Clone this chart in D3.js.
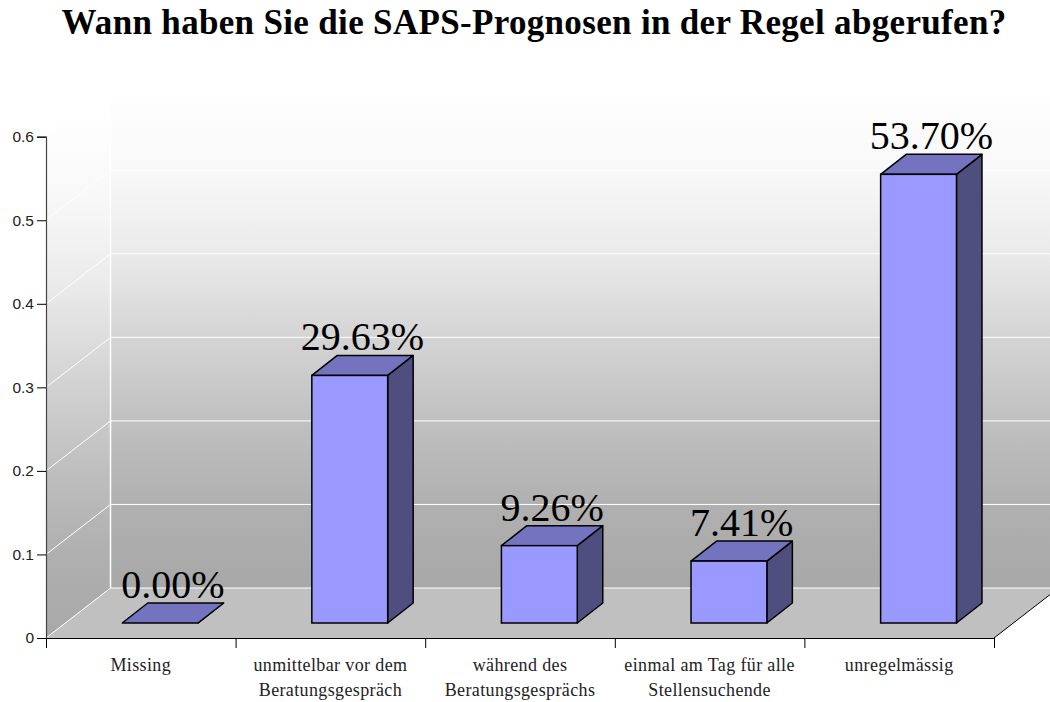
<!DOCTYPE html>
<html>
<head>
<meta charset="utf-8">
<script src="https://d3js.org/d3.v7.min.js"></script>
<style>
  html, body { margin: 0; padding: 0; background: #fff; }
  svg { display: block; }
</style>
</head>
<body>
<div id="chart"></div>
<script>
// Data
var titleText = "Wann haben Sie die SAPS-Prognosen in der Regel abgerufen?";
var categories = ["Missing", "unmittelbar vor dem|Beratungsgespräch", "während des|Beratungsgesprächs", "einmal am Tag für alle|Stellensuchende", "unregelmässig"];
var values = [0, 0.2963, 0.0926, 0.0741, 0.537];
var yTicks = [0, 0.1, 0.2, 0.3, 0.4, 0.5, 0.6];

var svgWidth = 1050;
var svgHeight = 702;
var margin = { top: 136.7, left: 46, bottom: 64, right: 56 };
var chartWidth = svgWidth - margin.left - margin.right;
var chartHeight = svgHeight - margin.top - margin.bottom;

// 3D offset of the back wall and of one bar
var depth = { x: 64.5, y: 50 };
var barDepth = { x: 25.5, y: 20 };
var barFront = 0.3; // how far back the bar's front face stands

var svg = d3.select("#chart").append("svg")
  .attr("width", svgWidth)
  .attr("height", svgHeight);

var x = d3.scaleBand().domain(d3.range(categories.length)).range([0, chartWidth]);
var y = d3.scaleLinear().domain([0, 0.6]).range([chartHeight, 0]);
var xTickScale = d3.scaleLinear().domain([0, categories.length]).range([0, chartWidth]);

// Wall shading, not quite linear in the reference
var wallShades = ["#ffffff", "#f8f8f8", "#eaeaea", "#d4d4d4", "#c0c0c0", "#b0b0b0", "#a8a8a8"];
var defs = svg.append("defs");
function wallGradient(id, y1, y2) {
  var grad = defs.append("linearGradient").attr("id", id)
    .attr("gradientUnits", "userSpaceOnUse")
    .attr("x1", 0).attr("x2", 0)
    .attr("y1", y1).attr("y2", y2);
  wallShades.forEach(function(c, i) {
    grad.append("stop").attr("offset", i / (wallShades.length - 1)).attr("stop-color", c);
  });
}
wallGradient("backWall", -depth.y, chartHeight - depth.y);
wallGradient("sideWall", -depth.y / 2, chartHeight);

var g = svg.append("g").attr("transform", `translate(${margin.left}, ${margin.top})`);

function pts(a) { return a.map(function(p) { return p.join(","); }).join(" "); }

// Walls and floor
g.append("polygon").attr("fill", "url(#sideWall)")
  .attr("points", pts([[0, y(0.6)], [depth.x, y(0.6) - depth.y], [depth.x, y(0) - depth.y], [0, y(0)]]));
g.append("polygon").attr("fill", "url(#backWall)")
  .attr("points", pts([[depth.x, y(0.6) - depth.y], [chartWidth + depth.x, y(0.6) - depth.y], [chartWidth + depth.x, y(0) - depth.y], [depth.x, y(0) - depth.y]]));
g.append("polygon").attr("fill", "#c0c0c0")
  .attr("points", pts([[0, y(0)], [depth.x, y(0) - depth.y], [chartWidth + depth.x, y(0) - depth.y], [chartWidth, y(0)]]));

// Gridlines on both walls
g.selectAll(".grid-side").data(yTicks).enter().append("line")
  .attr("x1", 0).attr("y1", function(d) { return y(d); })
  .attr("x2", depth.x).attr("y2", function(d) { return y(d) - depth.y; })
  .attr("stroke", "#fff").attr("stroke-width", 1);
g.selectAll(".grid-back").data(yTicks).enter().append("line")
  .attr("x1", depth.x).attr("y1", function(d) { return y(d) - depth.y; })
  .attr("x2", chartWidth + depth.x).attr("y2", function(d) { return y(d) - depth.y; })
  .attr("stroke", "#fff").attr("stroke-width", 1);
g.append("line")
  .attr("x1", depth.x).attr("x2", depth.x)
  .attr("y1", y(0.6) - depth.y).attr("y2", y(0) - depth.y)
  .attr("stroke", "#fff").attr("stroke-width", 1.5);

// Right edge of the floor
g.append("line")
  .attr("x1", chartWidth).attr("y1", y(0))
  .attr("x2", chartWidth + depth.x).attr("y2", y(0) - depth.y)
  .attr("stroke", "#000").attr("stroke-width", 1);

// Axes
var leftAxis = d3.axisLeft(y).tickValues(yTicks).tickSize(9).tickFormat(d3.format("~g"));
var yAxis = g.append("g").call(leftAxis);
yAxis.selectAll("text").attr("font-family", "'Liberation Sans', sans-serif").attr("font-size", 15.5).attr("fill", "#222");
yAxis.select(".domain").attr("stroke", "#444").attr("stroke-width", 1.2);

var bottomAxis = d3.axisBottom(xTickScale).ticks(categories.length).tickSize(10).tickFormat("");
var xAxis = g.append("g").attr("transform", `translate(0, ${chartHeight})`).call(bottomAxis);

// Bars
var bars = g.selectAll(".bar").data(values).enter().append("g").attr("class", "bar")
  .attr("transform", function(d, i) {
    return `translate(${x(i) + x.bandwidth() * 0.3 + depth.x * barFront}, ${-depth.y * barFront})`;
  });
var bw = x.bandwidth() * 0.4;

bars.append("polygon").attr("fill", "#4f4f7f").attr("stroke", "#000").attr("stroke-width", 1.5)
  .attr("stroke-linejoin", "round")
  .attr("points", function(d) {
    return pts([[bw, y(d)], [bw + barDepth.x, y(d) - barDepth.y], [bw + barDepth.x, y(0) - barDepth.y], [bw, y(0)]]);
  });
bars.append("polygon").attr("fill", "#7373bf").attr("stroke", "#000").attr("stroke-width", 1.5)
  .attr("stroke-linejoin", "round")
  .attr("points", function(d) {
    return pts([[0, y(d)], [barDepth.x, y(d) - barDepth.y], [bw + barDepth.x, y(d) - barDepth.y], [bw, y(d)]]);
  });
bars.append("rect").attr("fill", "#9999ff").attr("stroke", "#000").attr("stroke-width", 1.5)
  .attr("x", 0).attr("width", bw)
  .attr("y", function(d) { return y(d); })
  .attr("height", function(d) { return y(0) - y(d); });

// Value labels
bars.append("text")
  .attr("x", (bw + barDepth.x) / 2)
  .attr("y", function(d) { return y(d) - barDepth.y - 5; })
  .attr("text-anchor", "middle")
  .attr("font-family", "'Liberation Serif', serif")
  .attr("font-size", 40)
  .attr("fill", "#000")
  .text(function(d) { return d3.format(".2%")(d); });

// Category labels, two lines at most
var labels = g.selectAll(".cat").data(categories).enter().append("text")
  .attr("class", "cat")
  .attr("text-anchor", "middle")
  .attr("font-family", "'Liberation Serif', serif")
  .attr("font-size", 18)
  .attr("letter-spacing", 0.37)
  .attr("fill", "#222");
labels.each(function(d, i) {
  var self = d3.select(this);
  d.split("|").forEach(function(line, k) {
    self.append("tspan")
      .attr("x", x(i) + x.bandwidth() / 2)
      .attr("y", chartHeight + 33.5 + k * 24.5)
      .text(line);
  });
});

// Title
svg.append("text")
  .attr("x", 534).attr("y", 34)
  .attr("text-anchor", "middle")
  .attr("font-family", "'Liberation Serif', serif")
  .attr("font-weight", "bold")
  .attr("font-size", 35)
  .attr("letter-spacing", 0.33)
  .attr("fill", "#000")
  .text(titleText);
</script>
</body>
</html>
